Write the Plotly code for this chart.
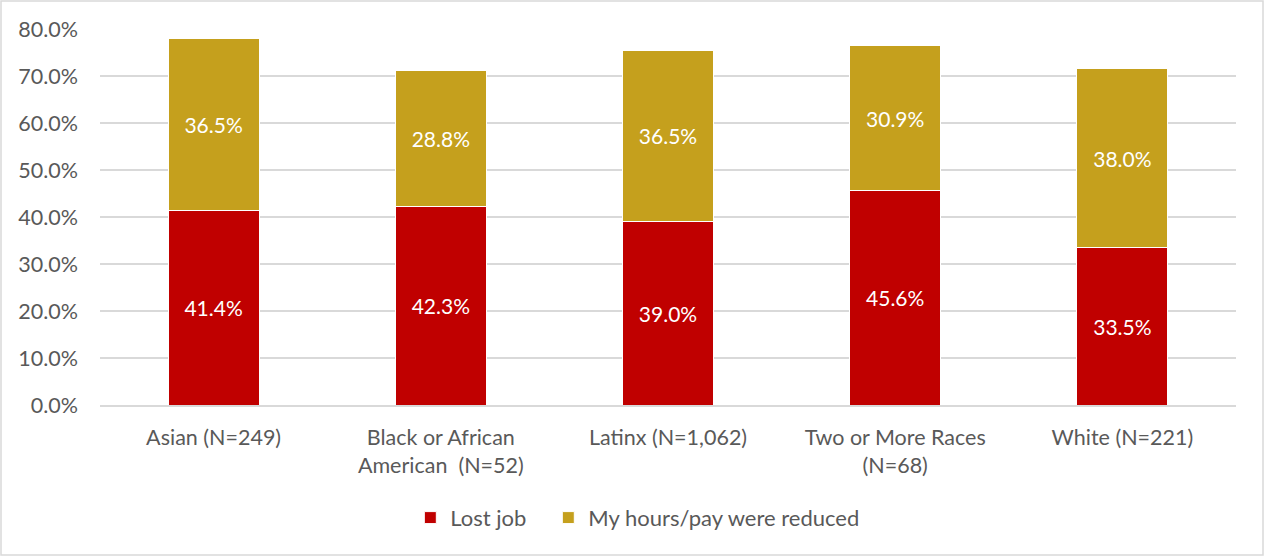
import plotly.graph_objects as go

categories = ["Asian (N=249)", "Black or African<br>American  (N=52)", "Latinx (N=1,062)",
              "Two or More Races<br>(N=68)", "White (N=221)"]
lost_job = [41.4, 42.3, 39.0, 45.6, 33.5]
hours_reduced = [36.5, 28.8, 36.5, 30.9, 38.0]
tick_vals = [0, 10, 20, 30, 40, 50, 60, 70, 80]
tick_text = ["0.0%", "10.0%", "20.0%", "30.0%", "40.0%", "50.0%", "60.0%", "70.0%", "80.0%"]

FONT = "Lato"
GRAY = "#595959"
FS = 21.5

fig = go.Figure()
fig.add_trace(go.Bar(
    name="Lost job" + "\u00a0" * 3, x=categories, y=lost_job,
    marker=dict(color="#C00000", line=dict(color="white", width=1)),
    text=[f"{v:.1f}%" for v in lost_job], textposition="inside", insidetextanchor="middle",
    textfont=dict(color="white", size=21, family=FONT),
))
fig.add_trace(go.Bar(
    name="My hours/pay were reduced", x=categories, y=hours_reduced,
    marker=dict(color="#C5A01D", line=dict(color="white", width=1)),
    text=[f"{v:.1f}%" for v in hours_reduced], textposition="inside", insidetextanchor="middle",
    textfont=dict(color="white", size=21, family=FONT),
))

W, H = 1265, 556
ml, mr, mt, mb = 100, 29, 29, 151
pw, ph = W - ml - mr, H - mt - mb

fig.update_layout(
    width=W, height=H,
    barmode="stack", bargap=0.6,
    margin=dict(l=ml, r=mr, t=mt, b=mb),
    paper_bgcolor="white", plot_bgcolor="white",
    font=dict(family=FONT, color=GRAY, size=FS),
    showlegend=True,
    legend=dict(orientation="h", x=0.473, xanchor="center", y=-0.3, yanchor="middle",
                font=dict(size=22, color=GRAY, family=FONT), traceorder="normal",
                itemwidth=30),
    yaxis=dict(range=[0, 80], tickvals=tick_vals, ticktext=tick_text,
               showgrid=True, gridcolor="#D9D9D9", gridwidth=1.5, zeroline=False,
               tickfont=dict(size=FS, color=GRAY), ticks="", ticklabelstandoff=21),
    xaxis=dict(showline=True, linecolor="#D9D9D9", linewidth=1.5, ticks="",
               tickfont=dict(size=FS, color=GRAY), ticklabelstandoff=12),
    uniformtext=dict(mode=False),
    shapes=[dict(type="rect", xref="paper", yref="paper",
                 x0=-(ml - 1) / pw, x1=1 + (mr - 2) / pw,
                 y0=-(mb - 1) / ph, y1=1 + (mt - 1) / ph,
                 line=dict(color="#D9D9D9", width=1.5), fillcolor="rgba(0,0,0,0)", layer="below")],
)

fig.write_html("out.html", config={"displayModeBar": False},
               post_script="document.body.style.margin='0';document.body.style.overflow='hidden';")
